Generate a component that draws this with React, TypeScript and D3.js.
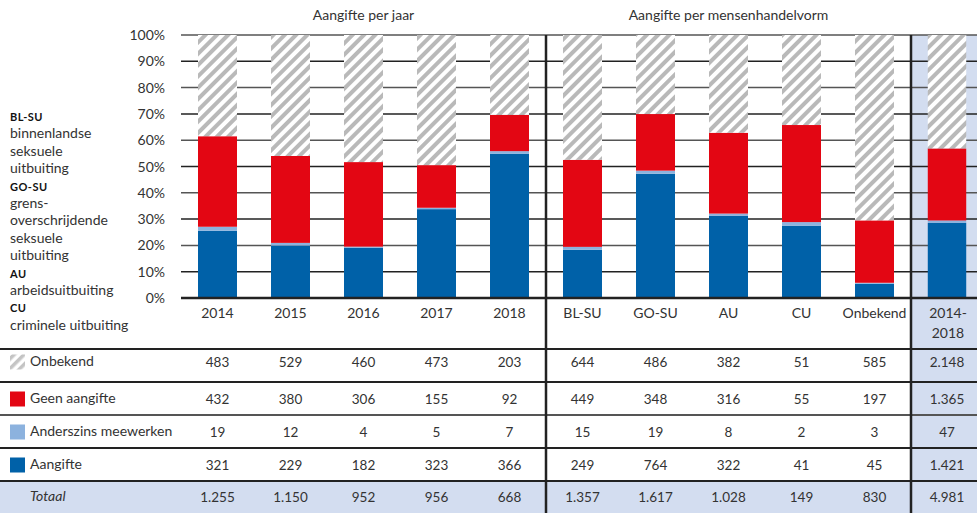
import React from "react";
import * as d3 from "d3";

const years = ["2014", "2015", "2016", "2017", "2018"];
const forms = ["BL-SU", "GO-SU", "AU", "CU", "Onbekend"];
const totalCat = ["2014-2018"];

// values per series: [years..., forms..., total]
const onbekend = [483, 529, 460, 473, 203, 644, 486, 382, 51, 585, 2148];
const geenAangifte = [432, 380, 306, 155, 92, 449, 348, 316, 55, 197, 1365];
const anderszins = [19, 12, 4, 5, 7, 15, 19, 8, 2, 3, 47];
const aangifte = [321, 229, 182, 323, 366, 249, 764, 322, 41, 45, 1421];

const yTicks = [0, 10, 20, 30, 40, 50, 60, 70, 80, 90, 100];

const seriesNames = ["Onbekend", "Geen aangifte", "Anderszins meewerken", "Aangifte"];

const legendLines: { text: string; bold: boolean }[] = [
  { text: "BL-SU", bold: true },
  { text: "binnenlandse", bold: false },
  { text: "seksuele", bold: false },
  { text: "uitbuiting", bold: false },
  { text: "GO-SU", bold: true },
  { text: "grens-", bold: false },
  { text: "overschrijdende", bold: false },
  { text: "seksuele", bold: false },
  { text: "uitbuiting", bold: false },
  { text: "AU", bold: true },
  { text: "arbeidsuitbuiting", bold: false },
  { text: "CU", bold: true },
  { text: "criminele uitbuiting", bold: false },
];

const W = 977;
const H = 513;
const FONT = "Lato, 'Open Sans', sans-serif";
const TXT = "#333";
const RED = "#e30613";
const BLUE = "#0061a8";
const LBLUE = "#8cb2de";
const BG = "#d3ddf0";

const fmt = d3.formatLocale({ decimal: ",", thousands: ".", grouping: [3], currency: ["€", ""] }).format(",d");

export default function App() {
  const y = d3.scaleLinear().domain([0, 100]).range([298, 35]);
  const xYears = d3.scaleBand().domain(years).range([181, 546]).paddingInner(0.466).paddingOuter(0.233);
  const xForms = d3.scaleBand().domain(forms).range([546, 911]).paddingInner(0.466).paddingOuter(0.233);
  const xTot = d3.scaleBand().domain(totalCat).range([911, 983]).paddingInner(0.466).paddingOuter(0.233);

  const cats = [...years, ...forms, ...totalCat];
  const xs = cats.map((c, i) => {
    if (i < 5) return { x: xYears(c)!, w: xYears.bandwidth() };
    if (i < 10) return { x: xForms(c)!, w: xForms.bandwidth() };
    return { x: xTot(c)!, w: xTot.bandwidth() };
  });

  const rows = cats.map((c, i) => ({
    cat: c,
    aangifte: aangifte[i],
    anderszins: anderszins[i],
    geen: geenAangifte[i],
    onbekend: onbekend[i],
  }));
  const keys = ["aangifte", "anderszins", "geen", "onbekend"];
  const colors: Record<string, string> = { aangifte: BLUE, anderszins: LBLUE, geen: RED, onbekend: "url(#hatch)" };
  const stack = d3.stack<any>().keys(keys).offset(d3.stackOffsetExpand);
  const stacked = stack(rows);

  const tableSeries = [onbekend, geenAangifte, anderszins, aangifte];
  const totals = cats.map((_, i) => onbekend[i] + geenAangifte[i] + anderszins[i] + aangifte[i]);
  const rowY = [349, 382, 415, 448, 481, 513];
  const rowShift = [-4, 0, 0, 0];
  const swatches = ["url(#hatchSw)", RED, LBLUE, BLUE];

  const centers = xs.map((d) => d.x + d.w / 2);

  return (
    <svg width={W} height={H} style={{ position: "absolute", left: 0, top: 0, fontFamily: FONT }}>
      <defs>
        <pattern id="hatch" patternUnits="userSpaceOnUse" width="8" height="8" patternTransform="rotate(45)">
          <rect width="8" height="8" fill="#fff" />
          <rect width="4" height="8" fill="#b9b9b9" />
        </pattern>
        <pattern id="hatchSw" patternUnits="userSpaceOnUse" width="7" height="7" patternTransform="rotate(45)">
          <rect width="7" height="7" fill="#fff" />
          <rect width="3.5" height="7" fill="#c4c4c4" />
        </pattern>
      </defs>
      <rect x={0} y={0} width={W} height={H} fill="#fff" />
      {/* backgrounds */}
      <rect x={911} y={35} width={W - 911} height={H - 35} fill={BG} />
      <rect x={0} y={481} width={W} height={H - 481} fill={BG} />

      {/* headers */}
      <text x={(181 + 546) / 2} y={20} textAnchor="middle" fontSize={14} fill={TXT}>Aangifte per jaar</text>
      <text x={(546 + 911) / 2} y={20} textAnchor="middle" fontSize={14} fill={TXT}>Aangifte per mensenhandelvorm</text>

      {/* gridlines */}
      {yTicks.map((t) => (
        <g key={t}>
          {t > 0 && <line x1={181} x2={W} y1={y(t)} y2={y(t)} stroke={t % 20 === 0 ? "#555" : "#222"} strokeWidth={1.5} />}
          <text x={165} y={y(t) + 5} textAnchor="end" fontSize={14} fill={TXT}>{t}%</text>
        </g>
      ))}

      {/* bars */}
      {stacked.map((s) => (
        <g key={s.key} fill={colors[s.key]}>
          {s.map((d, i) => (
            <rect key={i} x={xs[i].x} width={xs[i].w} y={y(d[1] * 100)} height={y(d[0] * 100) - y(d[1] * 100)} />
          ))}
        </g>
      ))}

      {/* axis line */}
      <line x1={181} x2={W} y1={298} y2={298} stroke="#222" strokeWidth={2.5} />

      {/* category labels */}
      {cats.map((c, i) =>
        i < 10 ? (
          <text key={c} x={centers[i]} y={318} textAnchor="middle" fontSize={14} fill={TXT}>{c}</text>
        ) : (
          <text key={c} x={centers[i] + 1} y={318} textAnchor="middle" fontSize={14} fill={TXT}>
            <tspan x={centers[i] + 1}>2014-</tspan>
            <tspan x={centers[i] + 1} dy={20}>2018</tspan>
          </text>
        )
      )}

      {/* table lines */}
      {rowY.slice(0, 5).map((ry, i) => (
        <line key={i} x1={0} x2={W} y1={ry} y2={ry} stroke={i === 2 ? "#555" : "#222"} strokeWidth={1.8} />
      ))}

      {/* table rows */}
      {seriesNames.map((name, r) => {
        const cy = (rowY[r] + rowY[r + 1]) / 2 + rowShift[r];
        return (
          <g key={name}>
            <rect x={10} y={cy - 7} width={15} height={15} fill={swatches[r]} />
            <text x={30} y={cy + 4} fontSize={14} fill={TXT}>{name}</text>
            {tableSeries[r].map((v, i) => (
              <text key={i} x={centers[i]} y={cy + 5} textAnchor="middle" fontSize={13.5} fill={TXT}>{fmt(v)}</text>
            ))}
          </g>
        );
      })}
      <g>
        <text x={30} y={501} fontSize={14} fontStyle="italic" fill={TXT}>Totaal</text>
        {totals.map((v, i) => (
          <text key={i} x={centers[i]} y={502} textAnchor="middle" fontSize={13.5} fill={TXT}>{fmt(v)}</text>
        ))}
      </g>

      {/* vertical dividers */}
      <line x1={546} x2={546} y1={35} y2={H} stroke="#222" strokeWidth={2.5} />
      <line x1={911} x2={911} y1={35} y2={H} stroke="#222" strokeWidth={2.5} />

      {/* left legend */}
      {legendLines.map((l, i) => (
        <text key={i} x={10} y={121 + i * 17.4} fontSize={l.bold ? 11 : 14} fontWeight={l.bold ? 700 : 400} fill={l.bold ? "#111" : TXT} letterSpacing={l.bold ? 0.5 : 0}>
          {l.text}
        </text>
      ))}
    </svg>
  );
}
